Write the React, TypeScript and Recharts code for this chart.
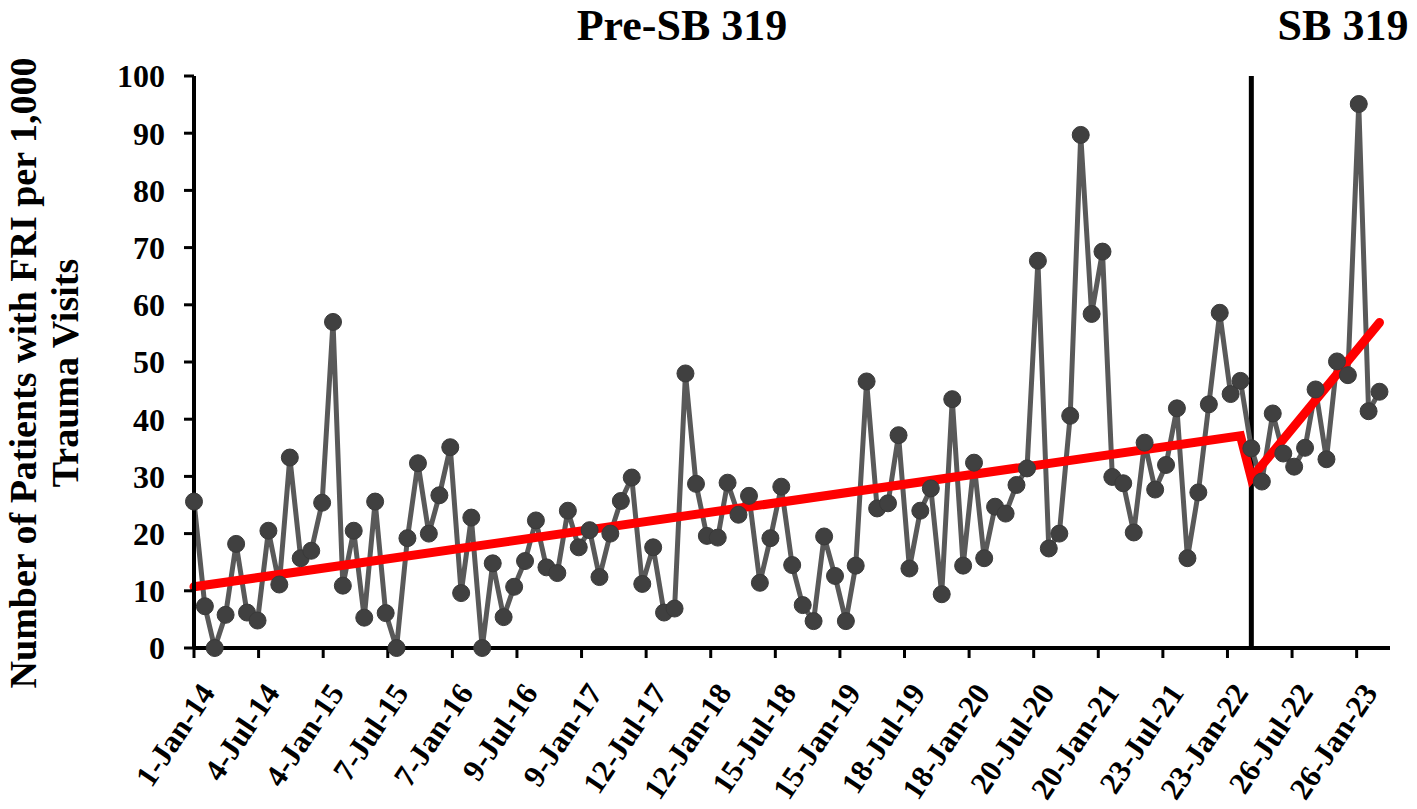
import { LineChart, Line, XAxis, YAxis, ReferenceLine } from "recharts";

const START_YEAR = 2014;

// patients with FRI per 1,000 trauma visits, one value a month, Jan 2014 .. Apr 2023
const rates = [
  25.6, 7.3, 0, 5.8, 18.2, 6.2, 4.8, 20.5, 11.1, 33.3, 15.7, 17.0,
  25.4, 57.0, 10.9, 20.5, 5.3, 25.6, 6.1, 0, 19.2, 32.3, 20.0, 26.7,
  35.1, 9.6, 22.8, 0, 14.8, 5.4, 10.7, 15.2, 22.3, 14.1, 13.1, 24.0,
  17.6, 20.6, 12.4, 20.0, 25.7, 29.8, 11.2, 17.6, 6.2, 6.9, 48.0, 28.7,
  19.6, 19.3, 28.9, 23.3, 26.6, 11.4, 19.2, 28.2, 14.5, 7.5, 4.7, 19.5,
  12.6, 4.7, 14.4, 46.6, 24.4, 25.3, 37.2, 13.9, 24.0, 27.9, 9.4, 43.5,
  14.4, 32.4, 15.7, 24.7, 23.5, 28.5, 31.4, 67.7, 17.4, 20.0, 40.6, 89.7,
  58.4, 69.3, 29.9, 28.8, 20.2, 35.9, 27.7, 32.0, 41.9, 15.7, 27.2, 42.6,
  58.6, 44.4, 46.7, 34.9, 29.1, 41.0, 34.0, 31.7, 35.0, 45.2, 33.0, 50.1,
  47.7, 95.1, 41.4, 44.8,
];

// segmented regression line: pre-SB 319 and SB 319 segments
const trendMonths = [0, 98, 99, 111];
const trendValues = [10.7, 37.1, 29.7, 56.9];

// first month with SB 319 in effect (Apr 2022)
const lawMonth = 99;

const tickLabels = [
  "1-Jan-14", "4-Jul-14", "4-Jan-15", "7-Jul-15", "7-Jan-16", "9-Jul-16",
  "9-Jan-17", "12-Jul-17", "12-Jan-18", "15-Jul-18", "15-Jan-19", "18-Jul-19",
  "18-Jan-20", "20-Jul-20", "20-Jan-21", "23-Jul-21", "23-Jan-22", "26-Jul-22",
  "26-Jan-23",
];

const yTicks = [0, 10, 20, 30, 40, 50, 60, 70, 80, 90, 100];

const MONTH_NAMES = ["Jan", "Feb", "Mar", "Apr", "May", "Jun", "Jul", "Aug", "Sep", "Oct", "Nov", "Dec"];
const DAY_MS = 86400000;
const base = Date.UTC(START_YEAR, 0, 1);
const monthDay = (m: number) => (Date.UTC(START_YEAR, m, 1) - base) / DAY_MS;
const labelDay = (s: string) => {
  const [d, mon, yy] = s.split("-");
  return (Date.UTC(2000 + Number(yy), MONTH_NAMES.indexOf(mon), Number(d)) - base) / DAY_MS;
};

const xTicks = tickLabels.map(labelDay);

const data = rates.map((rate, i) => {
  const k = trendMonths.indexOf(i);
  return { day: monthDay(i), rate, trend: k >= 0 ? trendValues[k] : null };
});

const FONT = '"Liberation Serif", "Times New Roman", serif';

const XTick = (props: any) => {
  const { x, y, payload } = props;
  const label = tickLabels[xTicks.indexOf(payload.value)];
  return (
    <g transform={`translate(${x + 22},${y + 33})`}>
      <text
        textAnchor="end"
        transform="rotate(-56)"
        fontSize={31}
        fontWeight="bold"
        fontFamily={FONT}
        fill="#000"
      >
        {label}
      </text>
    </g>
  );
};

export default function App() {
  return (
    <div style={{ position: "relative", width: 1400, height: 795, fontFamily: FONT }}>
      <style>{"svg.recharts-surface { overflow: visible; }"}</style>
      <div
        style={{
          position: "absolute",
          left: 674 - 200,
          top: -4,
          width: 400,
          textAlign: "center",
          fontSize: 44,
          fontWeight: "bold",
          lineHeight: "44px",
        }}
      >
        Pre-SB 319
      </div>
      <div
        style={{
          position: "absolute",
          left: 1335 - 100,
          top: -4,
          width: 200,
          textAlign: "center",
          fontSize: 44,
          fontWeight: "bold",
          lineHeight: "44px",
        }}
      >
        SB 319
      </div>
      <div
        style={{
          position: "absolute",
          left: 36 - 350,
          top: 365 - 42,
          width: 700,
          height: 84,
          transform: "rotate(-90deg)",
          textAlign: "center",
          fontSize: 38,
          fontWeight: "bold",
          lineHeight: "42px",
          whiteSpace: "nowrap",
        }}
      >
        Number of Patients with FRI per 1,000
        <br />
        Trauma Visits
      </div>

      <LineChart
        width={1400}
        height={795}
        data={data}
        margin={{ top: 68, right: 18, left: 106, bottom: 15 }}
      >
        <XAxis
          dataKey="day"
          type="number"
          domain={[0, monthDay(rates.length)]}
          ticks={xTicks}
          interval={0}
          tick={<XTick />}
          tickSize={10}
          tickMargin={2}
          height={140}
          axisLine={{ stroke: "#000", strokeWidth: 4 }}
          tickLine={{ stroke: "#000", strokeWidth: 3 }}
        />
        <YAxis
          domain={[0, 100]}
          ticks={yTicks}
          interval={0}
          width={80}
          tickSize={10}
          tickMargin={19}
          axisLine={{ stroke: "#000", strokeWidth: 4 }}
          tickLine={{ stroke: "#000", strokeWidth: 3 }}
          tick={{ fontSize: 32, fontWeight: "bold", fill: "#000", fontFamily: FONT }}
        />
        <ReferenceLine
          x={monthDay(lawMonth)}
          stroke="#000"
          strokeWidth={5}
          ifOverflow="extendDomain"
        />
        <Line
          type="linear"
          dataKey="rate"
          stroke="#595959"
          strokeWidth={5}
          dot={{ r: 8.5, fill: "#404040", stroke: "#3a3a3a", strokeWidth: 1 }}
          activeDot={false}
          isAnimationActive={false}
        />
        <Line
          type="linear"
          dataKey="trend"
          stroke="#ff0000"
          strokeWidth={9}
          strokeLinecap="round"
          connectNulls
          dot={false}
          activeDot={false}
          isAnimationActive={false}
        />
      </LineChart>
    </div>
  );
}
